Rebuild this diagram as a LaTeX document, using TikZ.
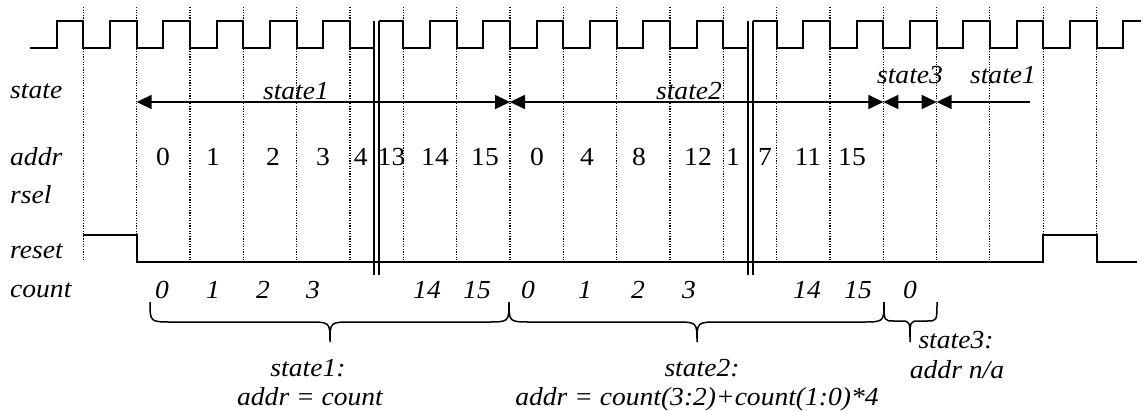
\documentclass[tikz,border=0pt]{standalone}
\usepackage{fontspec}
\setmainfont{Liberation Serif}[FakeStretch=1.06]
\usetikzlibrary{arrows.meta}

\begin{document}
\begin{tikzpicture}[x=1pt,y=-1pt,
  wave/.style={line width=1.8pt, line join=miter},
  gridline/.style={line width=1.1pt, dash pattern=on 1.1pt off 1.5pt},
  brk/.style={line width=1.7pt},
  tri/.tip={Triangle[length=15pt,width=14pt]},
  starrow/.style={line width=1.6pt},
  lbl/.style={font=\fontsize{26}{30}\selectfont\itshape, inner sep=0pt, anchor=base west},
  num/.style={font=\fontsize{26}{30}\selectfont, inner sep=0pt, anchor=base},
  itx/.style={font=\fontsize{26}{30}\selectfont\itshape, inner sep=0pt, anchor=base},
  bracepath/.style={line width=1.5pt},
]
\useasboundingbox (0,0) rectangle (1144,410);

% clock grid (falling edges)
\foreach \k in {0,...,19}
  \draw[gridline] ({83.33+53.33*\k},7) -- ({83.33+53.33*\k},261);

% clock, in three pieces split by the breaks
\draw[wave] (30,48)
  \foreach \k in {0,...,5} { -- ({56.67+53.33*\k},48) -- ({56.67+53.33*\k},21)
                             -- ({83.33+53.33*\k},21) -- ({83.33+53.33*\k},48) }
  -- (374.3,48);
\draw[wave] (379,21) -- (403.33,21) -- (403.33,48)
  \foreach \k in {7,...,12} { -- ({56.67+53.33*\k},48) -- ({56.67+53.33*\k},21)
                              -- ({83.33+53.33*\k},21) -- ({83.33+53.33*\k},48) }
  -- (748.3,48);
\draw[wave] (752.7,21) -- (776.67,21) -- (776.67,48)
  \foreach \k in {14,...,19} { -- ({56.67+53.33*\k},48) -- ({56.67+53.33*\k},21)
                               -- ({83.33+53.33*\k},21) -- ({83.33+53.33*\k},48) }
  -- (1123.33,48) -- (1123.33,21) -- (1141,21);

% reset
\draw[wave] (83.33,235) -- (136.67,235) -- (136.67,262) -- (1043.33,262)
  -- (1043.33,235) -- (1096.67,235) -- (1096.67,262) -- (1137,262);

% time breaks
\draw[brk] (374.3,21) -- (374.3,275);
\draw[brk] (379,21) -- (379,275);
\draw[brk] (748.3,21) -- (748.3,275);
\draw[brk] (752.7,21) -- (752.7,275);

% signal names
\node[lbl] (lstate) at (10,98) {state};
\node[lbl] (laddr) at (10,165) {addr};
\node[lbl] (lrsel) at (10,203) {rsel};
\node[lbl] (lreset) at (10,258) {reset};
\node[lbl] (lcount) at (10,297) {count};

% state intervals
\coordinate (sa) at (136.67,102);
\coordinate (sb) at (510,102);
\coordinate (sc) at (883.33,102);
\coordinate (sd) at (936.67,102);
\coordinate (se) at (1030,102);
\draw[starrow, tri-tri] (sa) -- (sb);
\draw[starrow, tri-tri] (sb) -- (sc);
\draw[starrow, tri-tri] (sc) -- (sd);
\draw[starrow, tri-] (sd) -- (se);
\node[itx] (st1) at (296,99) {state1};
\node[itx] (st2) at (689,99) {state2};
\node[itx] (st3) at (910,83) {state3};
\node[itx] (st4) at (1003,83) {state1};

% addr values
\foreach \x/\v [count=\i] in {163/0, 213/1, 273/2, 323/3, 360.7/4, 391.5/13, 435/14,
    485/15, 537/0, 587/4, 639/8, 698/12, 733/1, 765/7, 808/11, 852/15}
  \node[num] (a\i) at (\x,165) {\v};

% count values
\foreach \x/\v [count=\i] in {162/0, 213/1, 263/2, 313/3, 427/14, 477/15, 528/0,
    585/1, 638/2, 689/3, 807/14, 858/15, 910/0}
  \node[itx] (c\i) at (\x,298) {\v};

% braces
\draw[bracepath] (150,302) .. controls (150,322) .. (172,322) -- (308,322)
  .. controls (330,322) .. (330,342) .. controls (330,322) .. (352,322)
  -- (487,322) .. controls (509,322) .. (509,302);
\draw[bracepath] (509,302) .. controls (509,322) .. (531,322) -- (675,322)
  .. controls (697,322) .. (697,342) .. controls (697,322) .. (719,322)
  -- (862,322) .. controls (884,322) .. (884,302);
\draw[bracepath] (884,302) .. controls (884,321) .. (894,321) -- (901,321)
  .. controls (910,321) .. (910,342) .. controls (910,321) .. (919,321)
  -- (927,321) .. controls (937,321) .. (937,302);

% brace notes
\node[itx] (n1a) at (308,376) {state1:};
\node[itx] (n1b) at (310,405) {addr = count};
\node[itx] (n2a) at (702,376) {state2:};
\node[itx] (n2b) at (697,405) {addr = count(3:2)+count(1:0)*4};
\node[itx] (n3a) at (956,348) {state3:};
\node[itx] (n3b) at (957,378) {addr n/a};
\end{tikzpicture}
\end{document}
